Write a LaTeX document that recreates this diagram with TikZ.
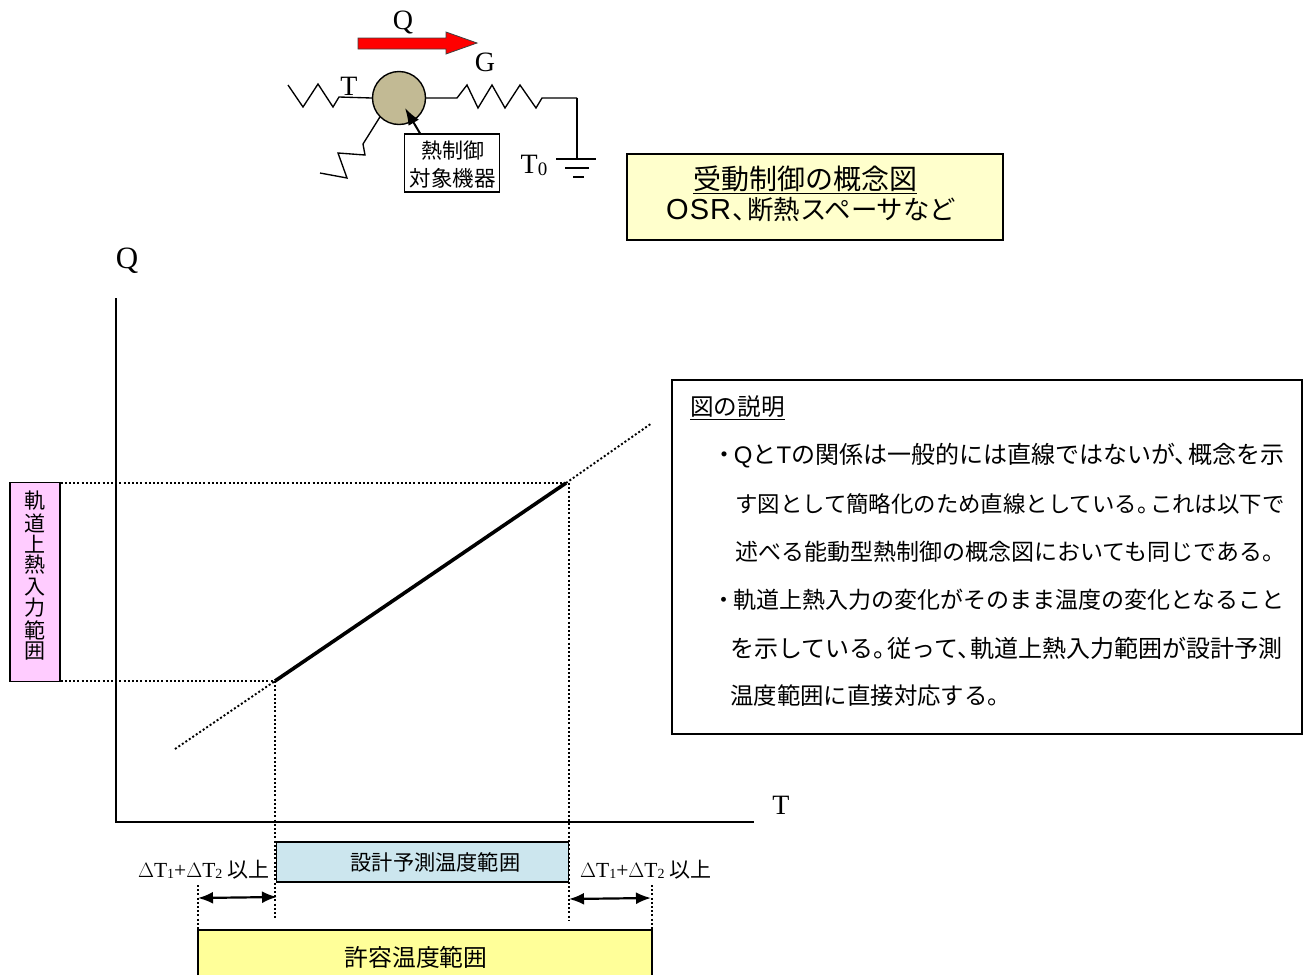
\documentclass[tikz,border=0pt]{standalone}
\usepackage{fontspec}
\setmainfont{Liberation Serif}
\newfontfamily\cjk{Noto Sans CJK JP}
\newfontfamily\sanslat{Liberation Sans}
\usetikzlibrary{arrows.meta,calc}
\newcommand\nrw{\hspace{-0.42em}}
\newcommand\nrb{\hspace{-0.12em}}
\tikzset{
  wire/.style={line width=1.35pt,black},
  dotline/.style={line width=1.9pt,black,dash pattern=on 2pt off 2.2pt},
  box/.style={draw=black,line width=1.3pt,inner sep=0pt},
  jp/.style={font=\cjk\fontsize{#1}{#1}\selectfont,text=black,inner sep=0pt},
  jp/.default=20pt,
  rom/.style={font=\fontsize{#1}{#1}\selectfont,inner sep=0pt},
  dbl/.style={line width=2.2pt,{Latex[length=15pt,width=12pt]}-{Latex[length=15pt,width=12pt]}},
  noteline/.style={jp=#1,anchor=west}
}
\begin{document}
\begin{tikzpicture}[x=1pt,y=-1pt]
\useasboundingbox (0,0) rectangle (1309,975);
% top circuit
\node[draw=black,line width=1.4pt,fill={rgb,255:red,194;green,186;blue,148},circle,minimum size=53pt,inner sep=0pt] (obj) at (399,98) {};
\coordinate (lend) at (288,85);
\draw[wire] (lend) -- (303,107) -- (318,84) -- (333,107) -- (339,97) -- (obj.west);
\coordinate (rnode) at (577,98);
\draw[wire] (obj.east) -- (457,98) -- (467,85) -- (478,108) -- (492,85) -- (505,108) -- (520,85) -- (536,108) -- (542,98) -- (rnode);
\coordinate (lowend) at (320,173);
\draw[wire] (obj.225) -- (363,144) -- (365,155) -- (338,153) -- (347,178) -- (lowend);
\coordinate (gnd) at (577,159);
\draw[wire] (rnode) -- (gnd);
\draw[wire] ($(gnd)+(-21,0)$) -- ($(gnd)+(19,0)$);
\draw[wire] ($(gnd)+(-12,9)$) -- ($(gnd)+(12,9)$);
\draw[wire] ($(gnd)+(-4,18)$) -- ($(gnd)+(7,18)$);
\node[rom=28pt] (lq) at (403,22) {Q};
\node[rom=28pt] (lg) at (485,62) {G};
\node[rom=28pt] (lt) at (349,86) {T};
\node[rom=28pt] (lt0) at (534,165) {T\raisebox{-2pt}{\fontsize{19pt}{19pt}\selectfont 0}};
\fill[red,draw=black!75,line width=0.8pt] (358,38) -- (446,38) -- (446,32) -- (477,43) -- (446,54) -- (446,49) -- (358,49) -- cycle;
\node[box,fill=white,minimum width=95pt,minimum height=58pt] (objbox) at (452,163) {};
\node[jp=21pt] (objt1) at (452.5,151) {熱制御};
\node[jp=21.5pt] (objt2) at (452.5,178) {対象機器};
\draw[line width=2pt,-{Latex[length=17pt,width=12pt]}] (objbox.north -| 420,0) -- (405,108);
% passive control title
\node[box,fill={rgb,255:red,255;green,255;blue,204},minimum width=376pt,minimum height=86pt] (title) at (815,197) {};
\node[jp=28pt] (tt1) at (805,180) {\underline{受動制御の概念図}};
\node[jp=26.4pt,anchor=west] (tt2) at (666,210) {{\sanslat\fontsize{29pt}{29pt}\selectfont O\hspace{1pt}S\hspace{1pt}R}\hspace{1pt}、\nrw 断熱スペーサなど};
% axes
\coordinate (org) at (116,822);
\coordinate (ytop) at (116,298);
\coordinate (xend) at (754,822);
\draw[line width=1.5pt] (ytop) -- (org) -- (xend);
\node[rom=31pt] (qa) at (127,261) {Q};
\node[rom=28pt] (ta) at (781,805) {T};
% line
\coordinate (a) at (275,681);
\coordinate (b) at (566,483);
\coordinate (c) at (175,749);
\coordinate (d) at (652,423);
\draw[line width=3.6pt] (a) -- (b);
\draw[dotline] (c) -- (a);
\draw[dotline] (b) -- (d);
% left box
\node[box,fill={rgb,255:red,255;green,204;blue,255},minimum width=50pt,minimum height=199pt] (orbit) at (35,582) {};
\foreach \ch/\yy in {軌/501,道/523,上/544,熱/565,入/587,力/608,範/630,囲/651}{
  \node[jp=21pt] at (35,\yy) {\ch};
}
\draw[dotline] (orbit.east |- b) -- (b);
\draw[dotline] (orbit.east |- a) -- (a);
% bottom bars
\node[box,fill={rgb,255:red,204;green,230;blue,238},minimum width=292pt,minimum height=40pt] (design) at (422.5,862) {};
\node[jp=21.2pt] (designt) at (435.5,862) {設計予測温度範囲};
\fill[fill={rgb,255:red,255;green,255;blue,153}] (198,930) rectangle (652,975);
\draw[line width=1.4pt] (198,975) -- (198,930) -- (652,930) -- (652,975);
\node[jp=23.8pt] (permt) at (416,957) {許容温度範囲};
% dotted verticals
\draw[dotline] (a) -- (275,920);
\draw[dotline] (569,483) -- (569,920);
\draw[dotline] (198,885) -- (198,930);
\draw[dotline] (652,885) -- (652,930);
% double arrows
\coordinate (d1l) at (198,898);
\coordinate (d1r) at (277,897);
\coordinate (d2l) at (569,899);
\coordinate (d2r) at (651,898);
\draw[dbl] (d1l) -- (d1r);
\draw[dbl] (d2l) -- (d2r);
\node[rom=21.5pt,anchor=east] (l1) at (270,870) {$\Delta$T\raisebox{-1pt}{\fontsize{14pt}{14pt}\selectfont 1}+$\Delta$T\raisebox{-1pt}{\fontsize{14pt}{14pt}\selectfont 2} {\cjk\fontsize{21pt}{21pt}\selectfont 以上}};
\node[rom=21.5pt,anchor=west] (l2) at (580,870) {$\Delta$T\raisebox{-1pt}{\fontsize{14pt}{14pt}\selectfont 1}+$\Delta$T\raisebox{-1pt}{\fontsize{14pt}{14pt}\selectfont 2} {\cjk\fontsize{21pt}{21pt}\selectfont 以上}};
% note box
\node[box,fill=white,minimum width=630pt,minimum height=354pt] (note) at (987,557) {};
\node[jp=23.6pt,anchor=west] (n0) at (690,408) {\underline{図の説明}};
\node[noteline=24pt] (n1) at (712.6,456) {・\nrb{\sanslat Q}と{\sanslat T}の関係は一般的には直線ではないが、\nrw 概念を示};
\node[noteline=22.4pt] (n2) at (735,504) {す図として簡略化のため直線としている。\nrw これは以下で};
\node[noteline=23pt] (n3) at (735,552) {述べる能動型熱制御の概念図においても同じである。};
\node[noteline=23pt] (n4) at (712.7,600) {・\nrb 軌道上熱入力の変化がそのまま温度の変化となること};
\node[noteline=24pt] (n5) at (730,648) {を示している。\nrw 従って、\nrw 軌道上熱入力範囲が設計予測};
\node[noteline=23.4pt] (n6) at (730,696) {温度範囲に直接対応する。};
\end{tikzpicture}
\end{document}
